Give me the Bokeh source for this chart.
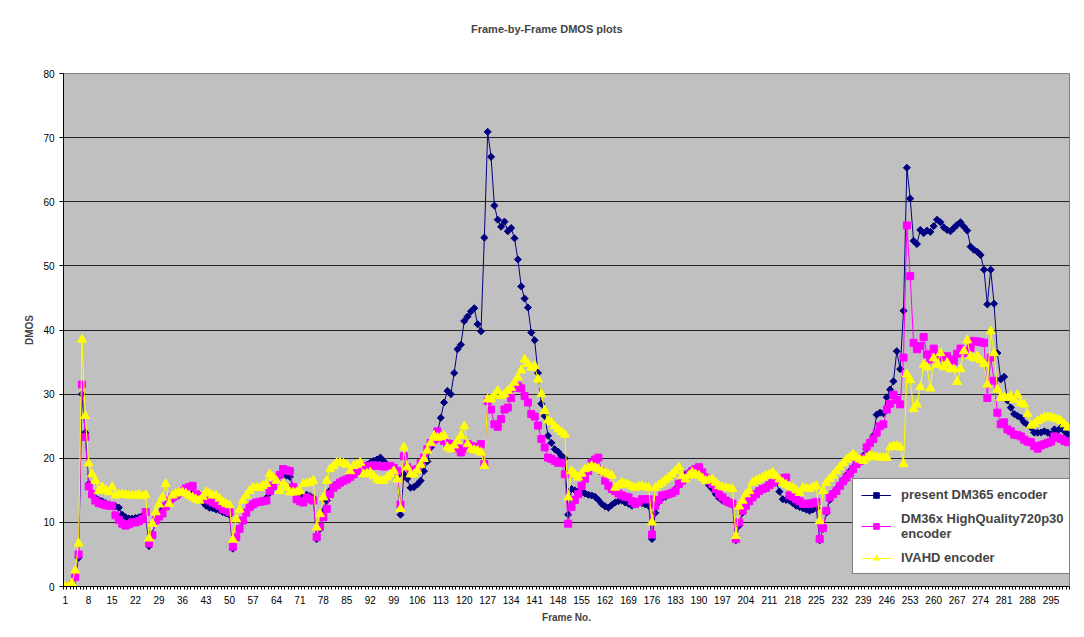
from bokeh.plotting import figure
from bokeh.models import Range1d, FixedTicker, Legend, LegendItem
from bokeh.embed import file_html
from bokeh.resources import INLINE
import math

# ---------------- data ----------------
dm365 = (
    [0, 0.2, 0.5, 1.5, 4.5, 30, 24, 16, 14.2, 13.8, 13.5, 13.3, 13, 12.8, 12.6, 12.5, 12.3, 11.2, 10.8, 10.6, 10.6, 10.7, 10.8, 11, 11.3]
    + [6.3, 8.2, 10.1, 11.2, 12, 12.8, 13.3, 13.6, 14, 14.3, 14.6, 14.8, 14.9, 14.7, 14.2, 13.7, 13.2, 12.6, 12.3, 12.2, 12, 11.9, 11.6, 11.4, 11.2]
    + [5.9, 7.5, 9, 10.2, 11.6, 12.3, 12.7, 13, 13.2, 13.4, 13.8, 14.6, 15.4, 16.3, 17.4, 17.8, 17.3, 17.1, 15.5, 14.6, 14.2, 14, 14.3, 14.1, 13.8]
    + [7.4, 9, 11.8, 13.4, 15, 15.6, 16, 16.3, 16.6, 16.8, 17.1, 17.4, 17.9, 18.4, 18.7, 19, 19.3, 19.6, 19.8, 20.1, 19.5, 19, 18.8, 18.3, 17.2]
    + [11.2, 17.5, 16.8, 15.4, 15.5, 15.9, 16.5, 18, 19.5, 21.7, 22.8, 24, 26.3, 28.7, 30.5, 30, 33.3, 37, 37.7, 41.4, 42.1, 42.9, 43.4, 40.9, 39.8]
    + [54.4, 70.9, 67, 59.4, 57.2, 56.1, 56.9, 55.4, 55.9, 54.3, 51, 46.8, 44.9, 43.5, 39.6, 38.4, 33.3, 28.5, 26.6, 23.5, 22.4, 21.4, 21, 20.4, 20]
    + [11.2, 15.2, 15.0, 14.8, 14.7, 14.5, 14.3, 14.2, 14.0, 13.5, 12.9, 12.5, 12.3, 12.7, 13.1, 13.3, 13.4, 13.1, 12.9, 12.6, 12.8, 13.1, 13.0, 12.8, 12.6]
    + [7.4, 11.5, 13.2, 13.8, 14, 14.3, 14.6, 15.2, 15.8, 16.6, 17.5, 17.8, 18.2, 18.4, 18.2, 17.6, 16.8, 15.8, 15.2, 14.4, 13.8, 13.4, 13.2, 13, 12.8]
    + [7.2, 9.5, 11.5, 12.5, 13.5, 14.1, 14.6, 15, 15.3, 15.6, 16, 16.3, 16.4, 14.8, 13.6, 13.5, 13.4, 13, 12.6, 12.4, 12.2, 12, 11.8, 12, 12.2]
    + [7.2, 9, 11.5, 13.5, 14.5, 15.2, 15.8, 16.6, 17.4, 18, 18.6, 19.2, 19.8, 20.4, 21.5, 22.5, 23.5, 26.8, 27.1, 27, 29.5, 30.7, 32, 36.7, 33.9]
    + [43, 65.3, 60.5, 53.9, 53.4, 55.6, 55.1, 55.5, 55.3, 56.2, 57.2, 56.8, 56.0, 55.6, 55.4, 55.9, 56.4, 56.8, 56.1, 55.5, 53.0, 52.5, 52.2, 51.7, 49.4]
    + [44.0, 49.4, 44.1, 36.4, 32.3, 32.7, 29, 27.9, 26.9, 26.6, 26.3, 25.6, 25.2, 24.8, 24.0, 24.0, 24.0, 24.2, 24.0, 23.7, 24.5, 24.3, 24.8, 24.2, 23.7]
)

dm36x = (
    [0, 0, 0.3, 1.5, 5, 31.5, 23.3, 15.6, 14.4, 13.4, 13, 12.9, 12.7, 12.6, 12.6, 11.1, 10.4, 9.8, 9.5, 9.7, 10, 10, 10.2, 10.5, 11.6]
    + [6.7, 8, 10.3, 10.9, 11.4, 12.5, 13.4, 13.9, 14.2, 14.6, 14.9, 15.3, 15.5, 15.7, 14.4, 14.1, 13.9, 13.6, 13.4, 13.1, 12.9, 12.6, 12.1, 11.9, 11.6]
    + [6.2, 7.7, 9, 10.3, 11.5, 12.4, 12.8, 13.1, 13.2, 13.3, 13.4, 14.9, 15.7, 16.5, 17.4, 18.3, 18.1, 18, 15.5, 13.6, 13.3, 13.1, 13.9, 13.6, 13.4]
    + [7.7, 9.3, 10.8, 12.1, 14.4, 15.4, 15.8, 16.2, 16.5, 16.7, 17.1, 17.5, 18, 18.6, 18.7, 18.8, 18.8, 18.9, 18.8, 18.8, 18.7, 18.8, 18.8, 18.5, 18]
    + [12.8, 20.3, 18.6, 18.1, 18.1, 18.3, 19.2, 20.1, 21.4, 22.4, 22.9, 24.2, 23.2, 22.7, 22.3, 21.9, 22.2, 21.5, 20.9, 21.5, 22.2, 21.9, 21.8, 21.7, 22.2]
    + [19.1, 28.9, 27.6, 25.3, 24.9, 26.1, 27.6, 27.9, 29.4, 31, 31.3, 30.9, 29.7, 28.7, 26.9, 26.5, 25.1, 23, 21.7, 20.1, 19.9, 19.6, 19.3, 19.3, 17.5]
    + [9.8, 12.4, 13.5, 14.4, 15.7, 16.8, 18, 19.3, 19.8, 20.1, 18, 16.5, 15.7, 15.2, 14.9, 14.5, 14.2, 14, 13.9, 13.3, 12.9, 13.2, 13.6, 13.6, 13.6]
    + [8.1, 12.6, 13.5, 14.2, 14.3, 14.4, 14.6, 14.9, 16, 16.5, 17, 17.5, 18, 18.3, 18.6, 17.8, 17, 16.5, 16, 15.2, 14.4, 13.9, 13.4, 13.1, 12.9]
    + [7.4, 10, 11.8, 12.6, 13.3, 13.9, 14.4, 14.9, 15.2, 15.4, 15.8, 16.2, 16.5, 16.7, 16.9, 17, 14.2, 14, 13.6, 13.3, 12.9, 12.9, 12.9, 13, 13.2]
    + [7.4, 9.1, 11.8, 13.9, 14.4, 14.9, 15.7, 16.4, 17, 17.6, 18.3, 19.1, 19.6, 20.1, 21.7, 22.4, 23, 24, 25, 25.3, 27.6, 28.5, 29.9, 29.1, 28.4]
    + [35.7, 56.3, 48.4, 38, 37, 37.5, 38.9, 36.2, 35.4, 37.1, 36.2, 36, 35.7, 35.9, 35.4, 35.1, 36.3, 37.1, 36.7, 36.4, 37.2, 38.3, 38.2, 38.1, 38]
    + [29.4, 35.7, 32.1, 27.1, 25.3, 25.6, 24.5, 24.2, 23.7, 23.6, 23.4, 22.9, 22.6, 22.5, 21.9, 21.5, 22, 22.2, 22.4, 22.6, 23.4, 23.2, 23, 22.7, 22.5]
)

ivahd = (
    [0, 0, 0.5, 2.5, 6.7, 38.5, 26.6, 19.2, 17.5, 16.5, 14.9, 15.5, 15.1, 14.7, 15.5, 14.2, 14.3, 14.4, 14.3, 14.2, 14.2, 14.2, 14.3, 14.1, 14.3]
    + [7.5, 9.8, 11.6, 12.8, 13.9, 16, 12.9, 14.2, 14.5, 14.7, 14.7, 14.5, 14.2, 13.9, 13.6, 13.4, 14, 14.7, 14.5, 14.2, 14.2, 13.7, 13.2, 12.9, 12.7]
    + [7.3, 10.5, 12, 13.4, 14.2, 14.9, 15.4, 15.4, 15.4, 15.7, 16, 17.5, 17, 16.5, 14.9, 16, 15.4, 14.7, 14.7, 14.7, 14.9, 16, 16.1, 16.2, 16.5]
    + [9.2, 11.3, 13.9, 16.5, 18.3, 18.8, 19.3, 19.3, 19.2, 19, 18, 18.8, 19, 19.3, 17.5, 17.6, 17.8, 17.2, 16.7, 16.5, 16.5, 17, 17.5, 18, 16.7]
    + [12.1, 21.7, 18.6, 17.5, 17.5, 18.1, 19, 19.9, 21.2, 22.4, 23.5, 23.2, 23.3, 23.5, 21.7, 21.4, 22, 22.7, 23.5, 25, 22.2, 21.4, 21.3, 21.2, 20.9]
    + [18.8, 29.2, 29.2, 29.8, 30.5, 29.7, 30, 30.5, 31, 31.8, 32.6, 33.7, 35.4, 34.7, 34.1, 34.4, 32.3, 30, 27.4, 25.9, 25.6, 25, 24.5, 24.1, 23.7]
    + [13.9, 18, 17.5, 17, 17.6, 18.3, 18.5, 18.8, 18.5, 18.3, 18, 17.8, 17.5, 17.3, 15.4, 15.8, 16.2, 16, 15.9, 15.6, 15.4, 15.6, 15.7, 15.5, 15.4]
    + [10, 15.4, 15.8, 16.2, 16.6, 17, 17.5, 18, 18.6, 17.2, 16.7, 17.3, 17.8, 17.5, 17.3, 16.9, 16.5, 16.6, 16.7, 16.2, 15.7, 15.5, 15.4, 15.3, 15.2]
    + [7.9, 12.5, 13.4, 14.4, 14.9, 16.2, 16.5, 16.7, 17, 17.3, 17.5, 17.8, 17.2, 16.7, 16.2, 15.9, 15.6, 15.4, 15, 14.6, 15.4, 15.3, 15.2, 15.5, 15.7]
    + [10.2, 14.9, 16.2, 16.8, 17.3, 18, 18.6, 19.2, 19.8, 20.2, 20.6, 20.1, 19.8, 19.6, 20, 20.4, 20.3, 20.2, 20.1, 20.1, 20.1, 21.7, 21.9, 21.9, 21.7]
    + [19.1, 33.1, 32.2, 27.7, 28.4, 31.1, 34.6, 34.2, 30.9, 35.6, 34.6, 36.4, 34.2, 34.9, 33.9, 33.9, 31.9, 33.9, 36.7, 38.4, 35.9, 35.6, 35.9, 35.3, 34.7]
    + [31.5, 39.8, 36.4, 30.7, 29.4, 29.6, 29.4, 29.7, 29.1, 29.9, 28.6, 28.4, 26.9, 25.1, 25.4, 25.8, 26.1, 26.4, 26.4, 26.4, 26.2, 26.1, 25.8, 25.3, 24.8]
)

n_frames = 300
x_tick_labels = list(range(1, n_frames + 1, 7))
y_ticks = [0, 10, 20, 30, 40, 50, 60, 70, 80]
series_names = ["present DM365 encoder", "DM36x HighQuality720p30\nencoder", "IVAHD encoder"]
chart_title = "Frame-by-Frame DMOS plots"

FONT = "Liberation Sans"

p = figure(width=1084, height=637, output_backend="svg", toolbar_location=None,
           x_range=Range1d(0.5, n_frames + 0.5), y_range=Range1d(0, 80),
           min_border_left=63, min_border_right=15, min_border_top=73, min_border_bottom=51)

p.background_fill_color = "#C0C0C0"
p.border_fill_color = "white"
p.outline_line_color = "#808080"
p.outline_line_width = 1

# title (two blank lines below it lift it away from the plot area)
p.title.text = chart_title + "\n\n"
p.title.text_font = FONT
p.title.text_font_size = "11px"
p.title.text_font_style = "bold"
p.title.align = "left"
p.title.offset = 407.5
p.title.standoff = 26
p.title.vertical_align = "top"

# x axis
p.xaxis.ticker = FixedTicker(ticks=x_tick_labels, minor_ticks=[k + 0.5 for k in range(0, n_frames + 1)])
p.xaxis.major_tick_out = 0
p.xaxis.major_tick_in = 0
p.xaxis.minor_tick_out = 3
p.xaxis.minor_tick_in = 0
p.xaxis.minor_tick_line_color = "black"
p.xaxis.axis_line_color = "black"
p.xaxis.major_label_standoff = 6
p.xaxis.major_label_text_font = FONT
p.xaxis.major_label_text_font_size = "10px"
p.xaxis.major_label_text_color = "black"
p.xaxis.axis_label = "Frame No."
p.xaxis.axis_label_text_font = FONT
p.xaxis.axis_label_text_font_size = "10px"
p.xaxis.axis_label_text_font_style = "bold"
p.xaxis.axis_label_standoff = 5

# y axis
p.yaxis.ticker = FixedTicker(ticks=y_ticks, minor_ticks=[])
p.yaxis.major_tick_out = 4
p.yaxis.major_tick_in = 0
p.yaxis.major_tick_line_color = "black"
p.yaxis.axis_line_color = "black"
p.yaxis.major_label_standoff = 5
p.yaxis.major_label_text_font = FONT
p.yaxis.major_label_text_font_size = "10px"
p.yaxis.major_label_text_color = "black"
p.yaxis.axis_label = "DMOS"
p.yaxis.axis_label_text_font = FONT
p.yaxis.axis_label_text_font_size = "10px"
p.yaxis.axis_label_text_font_style = "bold"
p.yaxis.axis_label_standoff = 5

p.xgrid.grid_line_color = None
p.ygrid.grid_line_color = "#222222"
p.ygrid.grid_line_width = 1

# series
fr1 = list(range(1, len(dm365) + 1))
fr2 = list(range(1, len(dm36x) + 1))
fr3 = list(range(1, len(ivahd) + 1))

l1 = p.line(fr1, dm365, line_color="#000080", line_width=1)
s1 = p.scatter(fr1, dm365, marker="square", size=5, angle=math.pi / 4,
               fill_color="#000080", line_color="#000080")
l2 = p.line(fr2, dm36x, line_color="#FF00FF", line_width=1)
s2 = p.scatter(fr2, dm36x, marker="square", size=7, fill_color="#FF00FF", line_color="#FF00FF")
l3 = p.line(fr3, ivahd, line_color="#FFFF00", line_width=1)
s3 = p.scatter(fr3, ivahd, marker="triangle", size=9, fill_color="#FFFF00", line_color="#FFFF00")

legend = Legend(items=[
    LegendItem(label=series_names[0], renderers=[l1, s1]),
    LegendItem(label=series_names[1], renderers=[l2, s2]),
    LegendItem(label=series_names[2], renderers=[l3, s3]),
], location=(789, 12))
legend.label_text_font = FONT
legend.label_text_font_style = "bold"
legend.label_text_font_size = "13px"
legend.label_text_line_height = 1.3
legend.border_line_color = "black"
legend.border_line_width = 1
legend.background_fill_color = "white"
legend.background_fill_alpha = 1
legend.glyph_width = 30
legend.glyph_height = 14
legend.label_standoff = 10
legend.label_height = 14
legend.padding = 8
legend.spacing = 9
legend.margin = 0
p.add_layout(legend)

open("out.html", "w").write(file_html(p, INLINE))
